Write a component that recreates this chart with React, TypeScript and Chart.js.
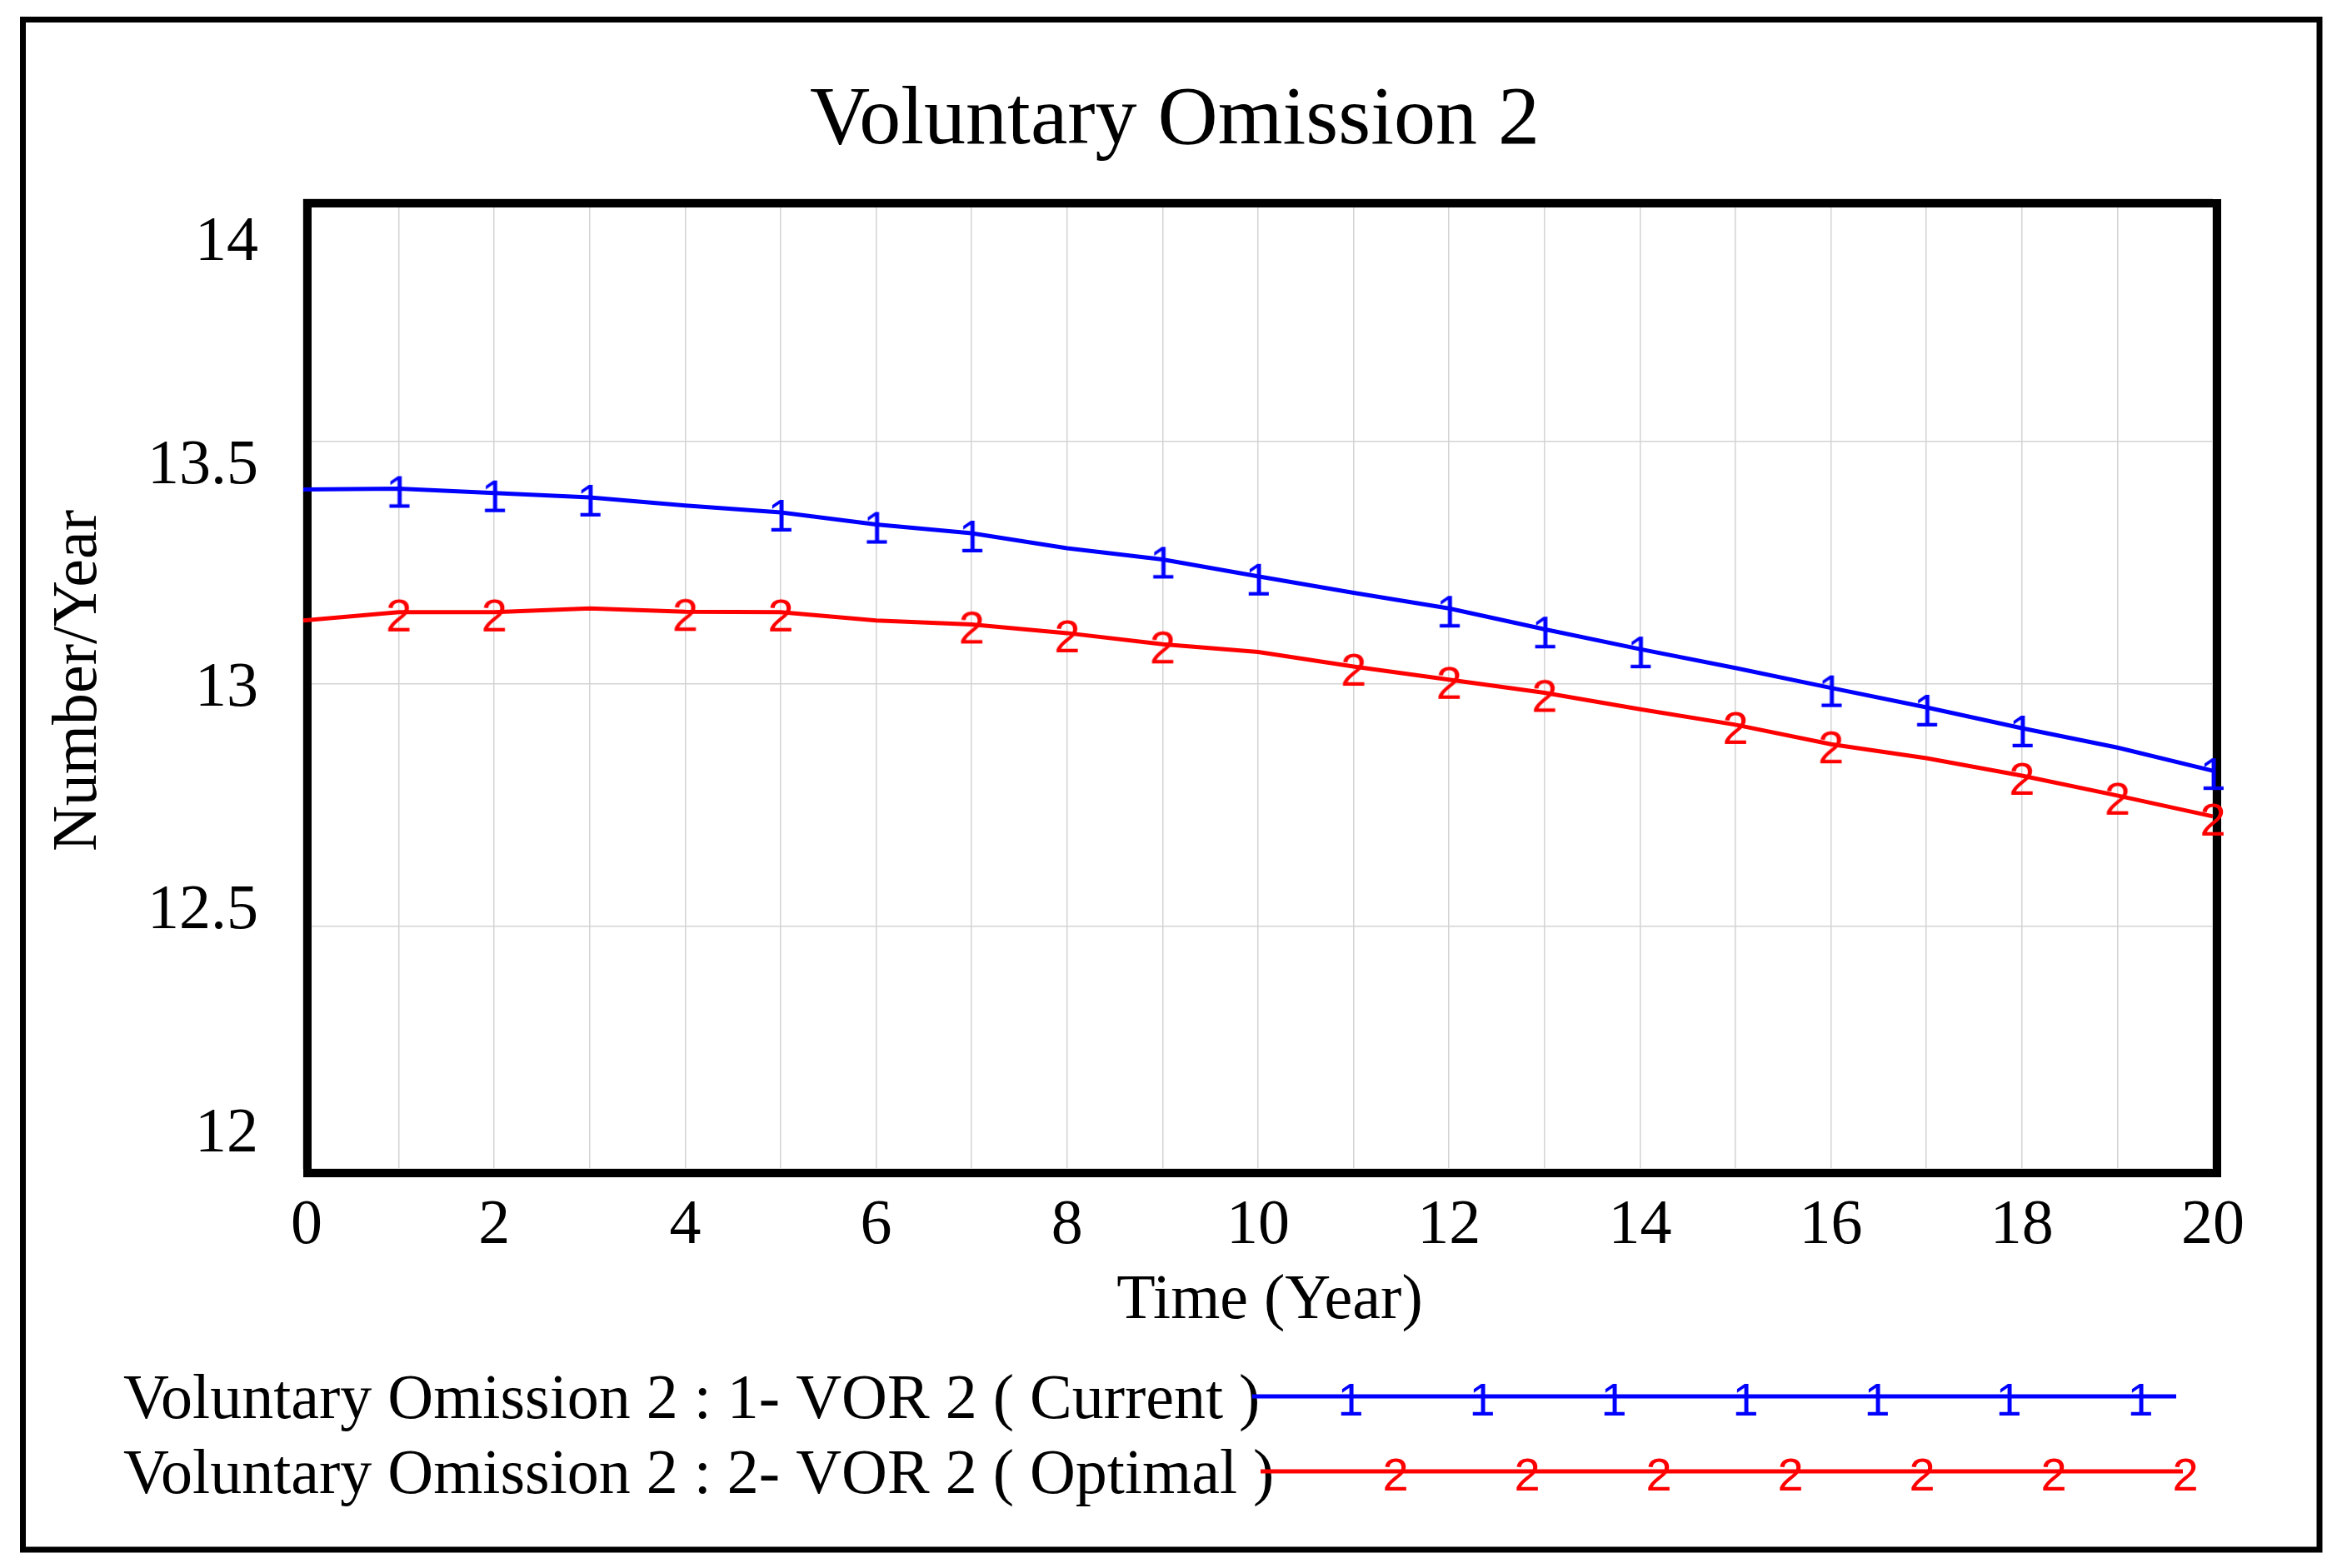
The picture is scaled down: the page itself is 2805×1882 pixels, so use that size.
import React, { useEffect, useRef } from "react";
import { Chart, registerables } from "chart.js";

Chart.register(...registerables);

// ---- data ----
const years = [0, 1, 2, 3, 4, 5, 6, 7, 8, 9, 10, 11, 12, 13, 14, 15, 16, 17, 18, 19, 20];
const currentValues = [
  13.401, 13.403, 13.394, 13.385, 13.368, 13.354, 13.329, 13.311, 13.28, 13.257, 13.222,
  13.188, 13.156, 13.113, 13.072, 13.033, 12.992, 12.952, 12.909, 12.869, 12.821,
];
const optimalValues = [
  13.131, 13.148, 13.148, 13.156, 13.149, 13.148, 13.131, 13.123, 13.105, 13.082, 13.066,
  13.036, 13.009, 12.982, 12.948, 12.916, 12.876, 12.847, 12.811, 12.77, 12.727,
];
const currentMarkerIdx = [1, 2, 3, 5, 6, 7, 9, 10, 12, 13, 14, 16, 17, 18, 20];
const optimalMarkerIdx = [1, 2, 4, 5, 7, 8, 9, 11, 12, 13, 15, 16, 18, 19, 20];
const xTicks = [0, 2, 4, 6, 8, 10, 12, 14, 16, 18, 20];
const yTicks = [12, 12.5, 13, 13.5, 14];
const yTickLabels = ["12", "12.5", "13", "13.5", "14"];
const titleText = "Voluntary Omission 2";
const xTitle = "Time (Year)";
const yTitle = "Number/Year";
const seriesLabels = [
  "Voluntary Omission 2 : 1- VOR 2 ( Current )",
  "Voluntary Omission 2 : 2- VOR 2 ( Optimal )",
];
const seriesGlyphs = ["1", "2"];
const seriesColors = ["#0000ff", "#ff0000"];

const SERIF = '"Liberation Serif", "Times New Roman", serif';
const SANS = '"Liberation Sans", Arial, sans-serif';

function makeGlyph(text: string, color: string) {
  const c = document.createElement("canvas");
  c.width = 60;
  c.height = 70;
  const g = c.getContext("2d")!;
  g.fillStyle = color;
  g.font = `56px ${SANS}`;
  g.textAlign = "center";
  g.textBaseline = "alphabetic";
  g.fillText(text, 30, 58);
  return c;
}

export default function App() {
  const ref = useRef<HTMLCanvasElement | null>(null);

  useEffect(() => {
    if (!ref.current) return;
    const glyph1 = makeGlyph(seriesGlyphs[0], seriesColors[0]);
    const glyph2 = makeGlyph(seriesGlyphs[1], seriesColors[1]);

    const decor = {
      id: "decor",
      beforeDraw(chart: any) {
        const ctx = chart.ctx;
        ctx.save();
        ctx.fillStyle = "#ffffff";
        ctx.fillRect(0, 0, chart.width, chart.height);
        ctx.strokeStyle = "#000";
        ctx.lineWidth = 7;
        ctx.strokeRect(27.5, 23.5, 2756.5, 1836.5);
        ctx.restore();
      },
      beforeDatasetsDraw(chart: any) {
        const { ctx, chartArea: a } = chart;
        ctx.save();
        ctx.strokeStyle = "#000";
        ctx.lineWidth = 10;
        ctx.strokeRect(a.left + 5, a.top + 5, a.right - a.left, a.bottom - a.top);
        ctx.restore();
      },
      afterDraw(chart: any) {
        const { ctx, chartArea: a } = chart;
        const xs = chart.scales.x;
        const ys = chart.scales.y;
        ctx.save();
        ctx.fillStyle = "#000";
        // title
        ctx.font = `100px ${SERIF}`;
        ctx.textAlign = "center";
        ctx.textBaseline = "alphabetic";
        ctx.fillText(titleText, 1410, 172);
        // y tick labels
        ctx.font = `76px ${SERIF}`;
        ctx.textAlign = "right";
        const mid = (a.top + a.bottom) / 2;
        yTicks.forEach((v, i) => {
          const p = ys.getPixelForValue(v);
          const yy = mid + (p - mid) * 0.919 + 26;
          ctx.fillText(yTickLabels[i], a.left - 54, yy);
        });
        // x tick labels
        ctx.textAlign = "center";
        xTicks.forEach((v) => {
          const p = xs.getPixelForValue(v);
          ctx.fillText(String(v), p + (v === 0 ? 4 : 0), a.bottom + 89);
        });
        // x title
        ctx.fillText(xTitle, 1524, a.bottom + 179);
        // y title
        ctx.save();
        ctx.translate(115, 817);
        ctx.rotate(-Math.PI / 2);
        ctx.textAlign = "center";
        ctx.fillText(yTitle, 0, 0);
        ctx.restore();
        // legend
        const rows = [
          { textY: 1702, lineY: 1676, x0: 1503, x1: 2612, m0: 1621, glyph: glyph1 },
          { textY: 1792, lineY: 1766, x0: 1513, x1: 2620, m0: 1675, glyph: glyph2 },
        ];
        rows.forEach((r, i) => {
          ctx.fillStyle = "#000";
          ctx.textAlign = "left";
          ctx.font = `76px ${SERIF}`;
          ctx.fillText(seriesLabels[i], 148, r.textY);
          ctx.strokeStyle = seriesColors[i];
          ctx.lineWidth = 5;
          ctx.beginPath();
          ctx.moveTo(r.x0, r.lineY);
          ctx.lineTo(r.x1, r.lineY);
          ctx.stroke();
          for (let k = 0; k < 7; k++) {
            const mx = r.m0 + k * 158;
            ctx.drawImage(r.glyph, mx - r.glyph.width / 2, r.lineY - r.glyph.height / 2);
          }
        });
        ctx.restore();
      },
    };

    const chart = new Chart(ref.current, {
      type: "line",
      data: {
        datasets: [
          {
            label: seriesLabels[0],
            data: years.map((t, i) => ({ x: t, y: currentValues[i] })),
            borderColor: seriesColors[0],
            backgroundColor: seriesColors[0],
            borderWidth: 5,
            tension: 0,
            fill: false,
            clip: false as any,
            pointStyle: glyph1 as any,
            pointRadius: (c: any) => (currentMarkerIdx.includes(c.dataIndex) ? 20 : 0),
          },
          {
            label: seriesLabels[1],
            data: years.map((t, i) => ({ x: t, y: optimalValues[i] })),
            borderColor: seriesColors[1],
            backgroundColor: seriesColors[1],
            borderWidth: 5,
            tension: 0,
            fill: false,
            clip: false as any,
            pointStyle: glyph2 as any,
            pointRadius: (c: any) => (optimalMarkerIdx.includes(c.dataIndex) ? 20 : 0),
          },
        ],
      },
      options: {
        animation: false,
        responsive: false,
        maintainAspectRatio: false,
        events: [],
        layout: { padding: { left: 364, right: 149, top: 239, bottom: 479 } },
        plugins: { legend: { display: false }, tooltip: { enabled: false }, title: { display: false } },
        scales: {
          x: {
            type: "linear",
            min: 0,
            max: 20,
            ticks: { display: false, stepSize: 1 },
            grid: { color: "#d3d3d3", lineWidth: 1.5, drawTicks: false },
            border: { display: false },
            afterFit: (s: any) => {
              s.height = 0;
            },
          },
          y: {
            type: "linear",
            min: 12,
            max: 14,
            ticks: { display: false, stepSize: 0.5 },
            grid: { color: "#d3d3d3", lineWidth: 1.5, drawTicks: false },
            border: { display: false },
            afterFit: (s: any) => {
              s.width = 0;
            },
          },
        },
      },
      plugins: [decor],
    });
    return () => chart.destroy();
  }, []);

  return (
    <div style={{ position: "fixed", left: 0, top: 0, width: 2805, height: 1882, background: "#fff" }}>
      <canvas ref={ref} width={2805} height={1882} style={{ display: "block", width: 2805, height: 1882 }} />
    </div>
  );
}
